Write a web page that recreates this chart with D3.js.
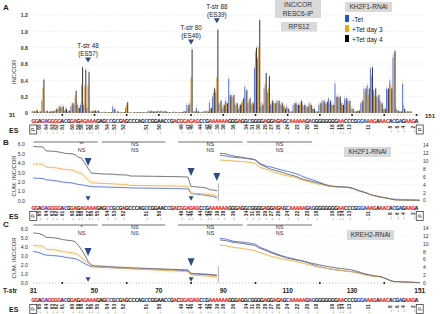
<!DOCTYPE html>
<html>
<head>
<meta charset="utf-8">
<script src="https://cdn.jsdelivr.net/npm/d3@7"></script>
<style>
body{margin:0;background:#fff}
svg text{font-family:"Liberation Sans",Arial,sans-serif}
</style>
</head>
<body>
<div id="chart"></div>
<script>
// T-str positions along RPS12
var positions = d3.range(31,152)
var seriesNames = ["-Tet","+Tet day 3","+Tet day 4"]
var seriesColors = ["#5577e8","#e79c22","#3a3a3a"]
var legendColors = ["#1f4fe6","#f5a400","#000000"]
var lineColors = ["#4d6fe8","#f2b04a","#6a6a6a"]

// panel A bars, INC/COR per position 31..151
var barMinusTet = [0.02,0.02,0.01,0.15,0.02,0.01,0.02,0.03,0.05,0.06,0.03,0.02,0.08,0.1,0.1,0.1,0.1,0.06,0.02,0.03,
  0.02,0.01,0.01,0.01,0.01,0.08,0.01,0.01,0.01,0.06,0.01,0.0,0.01,0.01,0.01,0.01,0.03,0.03,0.02,0.03,
  0.03,0.02,0.01,0.01,0.02,0.01,0.01,0.02,0.1,0.12,0.02,0.06,0.01,0.02,0.03,0.13,0.2,0.25,
  0.12,0.05,0.15,0.42,0.2,0.1,0.05,0.12,0.32,0.12,0.1,0.55,0.67,0.08,0.3,0.25,0.1,0.12,0.15,0.1,0.08,0.08,
  0.02,0.1,0.12,0.1,0.1,0.08,0.12,0.05,0.02,0.1,0.15,0.12,0.18,0.1,0.36,0.2,0.12,0.18,0.15,0.05,
  0.02,0.03,0.12,0.3,0.34,0.55,0.28,0.2,0.15,0.05,0.3,0.4,0.68,0.05,0.02,0.36,0.02,0.02,0.0,0.0,0.0]
var barTetDay3 = [0.03,0.04,0.02,0.3,0.02,0.02,0.03,0.04,0.07,0.07,0.05,0.03,0.1,0.2,0.07,0.34,0.33,0.33,0.02,0.03,
  0.03,0.01,0.02,0.01,0.01,0.04,0.02,0.01,0.01,0.1,0.01,0.01,0.01,0.01,0.01,0.01,0.02,0.02,0.02,0.02,
  0.02,0.03,0.01,0.01,0.01,0.01,0.01,0.03,0.06,0.43,0.02,0.02,0.01,0.02,0.02,0.05,0.25,0.43,
  0.1,0.08,0.12,0.2,0.18,0.1,0.08,0.14,0.25,0.15,0.12,0.75,0.81,0.12,0.35,0.3,0.12,0.12,0.12,0.1,0.08,0.06,
  0.02,0.1,0.1,0.12,0.08,0.06,0.1,0.05,0.02,0.1,0.12,0.1,0.12,0.1,0.2,0.18,0.1,0.15,0.12,0.05,
  0.02,0.03,0.12,0.25,0.22,0.45,0.2,0.18,0.1,0.05,0.28,0.35,0.72,0.03,0.02,0.1,0.02,0.02,0.0,0.0,0.0]
var barTetDay4 = [0.02,0.03,0.02,0.41,0.03,0.02,0.02,0.05,0.08,0.08,0.05,0.03,0.12,0.27,0.06,0.56,0.53,0.5,0.02,0.03,
  0.03,0.01,0.01,0.01,0.01,0.05,0.02,0.01,0.01,0.13,0.01,0.01,0.01,0.01,0.01,0.01,0.02,0.02,0.02,0.02,
  0.02,0.02,0.01,0.01,0.01,0.01,0.01,0.02,0.1,0.78,0.02,0.02,0.01,0.02,0.02,0.06,0.3,1.02,
  0.15,0.1,0.12,0.22,0.22,0.12,0.1,0.18,0.28,0.18,0.12,0.8,1.14,0.1,0.49,0.45,0.15,0.12,0.15,0.12,0.05,0.05,
  0.02,0.12,0.1,0.15,0.1,0.08,0.1,0.05,0.02,0.12,0.15,0.14,0.15,0.1,0.2,0.2,0.1,0.18,0.15,0.05,
  0.02,0.03,0.15,0.3,0.3,0.56,0.3,0.22,0.12,0.05,0.3,0.3,0.76,0.03,0.02,0.05,0.02,0.02,0.0,0.0,0.0]
var barErr = [0.04,0.03,0.03]
var yTicksA = [0,0.2,0.4,0.6,0.8,1.0,1.2]

// panel B cumulative INC/COR, positions 31..88 (left axis) and 89..151 (right axis)
var cumBLeftMinus = [2.4,2.38,2.37,2.35,2.2,2.18,2.15,2.1,2.05,1.98,1.94,1.9,1.88,1.8,1.72,1.68,1.62,1.55,1.5,1.48,
  1.47,1.46,1.45,1.44,1.43,1.42,1.41,1.4,1.39,1.38,1.35,1.35,1.34,1.34,1.33,1.33,1.32,1.32,1.31,1.31,
  1.3,1.3,1.29,1.29,1.28,1.28,1.27,1.26,1.25,0.75,0.72,0.68,0.64,0.6,0.55,0.48,0.45,0.28]
var cumBLeftDay3 = [3.9,3.88,3.87,3.85,3.55,3.52,3.5,3.48,3.42,3.35,3.3,3.28,3.25,3.15,2.95,2.9,2.55,2.2,1.9,1.88,
  1.85,1.83,1.82,1.81,1.8,1.78,1.75,1.74,1.73,1.72,1.62,1.62,1.61,1.61,1.6,1.6,1.59,1.59,1.58,1.58,
  1.57,1.57,1.56,1.56,1.55,1.55,1.54,1.53,1.52,0.8,0.78,0.76,0.74,0.72,0.68,0.64,0.6,0.45]
var cumBLeftDay4 = [5.75,5.72,5.7,5.68,5.27,5.25,5.24,5.2,5.15,5.08,5.0,4.98,4.96,4.86,4.6,4.5,3.95,3.42,2.92,2.9,
  2.87,2.84,2.83,2.82,2.81,2.8,2.75,2.74,2.73,2.72,2.62,2.61,2.61,2.6,2.6,2.59,2.59,2.58,2.58,2.57,
  2.57,2.56,2.56,2.55,2.55,2.54,2.53,2.52,2.5,1.5,1.48,1.45,1.42,1.38,1.3,1.15,1.12,1.05]
var cumBRightMinus = [11.4,11.3,11.2,11.0,10.9,10.8,10.75,10.7,10.6,10.5,10.4,10.2,9.6,9.1,8.8,8.5,8.4,8.15,7.9,7.7,
  7.5,7.3,7.1,6.9,6.6,6.3,5.9,5.65,5.4,5.1,4.8,4.5,4.2,3.9,3.7,3.55,3.45,3.4,3.35,3.3,
  3.25,3.05,2.75,2.45,2.2,1.95,1.65,1.35,1.15,0.95,0.8,0.65,0.5,0.35,0.3,0.25,0.22,0.2,0.15,0.12,0.1,0.08,0.0]
var cumBRightDay3 = [10.2,10.15,10.1,10.0,9.95,9.9,9.85,9.8,9.7,9.6,9.5,9.3,8.6,8.2,7.9,7.6,7.3,7.05,6.8,6.6,
  6.4,6.2,6.0,5.85,5.6,5.3,5.0,4.8,4.6,4.4,4.2,4.0,3.85,3.7,3.55,3.45,3.4,3.35,3.3,3.25,
  3.2,3.0,2.7,2.4,2.15,1.9,1.6,1.3,1.1,0.9,0.75,0.6,0.45,0.3,0.12,0.08,0.06,0.05,0.04,0.03,0.02,0.01,0.0]
var cumBRightDay4 = [11.9,11.8,11.7,11.45,11.25,11.1,11.0,10.9,10.7,10.55,10.45,10.2,9.3,8.9,8.5,8.1,7.8,7.6,7.35,7.15,
  6.9,6.6,6.4,6.2,5.9,5.55,5.3,5.1,4.9,4.7,4.5,4.3,4.05,3.85,3.65,3.55,3.5,3.45,3.4,3.35,
  3.3,3.1,2.8,2.5,2.25,2.0,1.7,1.35,1.2,1.0,0.85,0.7,0.55,0.35,0.15,0.08,0.06,0.05,0.04,0.03,0.02,0.01,0.0]

// panel C (KREH2-RNAi)
var cumCLeftMinus = [3.5,3.45,3.35,3.2,3.1,3.08,3.05,3.02,2.98,2.95,2.85,2.8,2.75,2.7,2.55,2.35,2.15,1.95,1.8,1.78,
  1.76,1.74,1.72,1.7,1.68,1.66,1.65,1.63,1.62,1.6,1.58,1.57,1.56,1.55,1.53,1.52,1.51,1.5,1.48,1.47,
  1.46,1.44,1.43,1.42,1.4,1.39,1.38,1.36,1.35,1.0,0.98,0.96,0.94,0.92,0.9,0.86,0.82,0.78]
var cumCLeftDay3 = [4.2,4.15,4.12,4.1,3.75,3.72,3.7,3.68,3.6,3.5,3.45,3.4,3.35,3.3,3.1,2.8,2.5,2.2,1.9,1.8,
  1.78,1.76,1.74,1.72,1.7,1.68,1.66,1.65,1.64,1.62,1.6,1.58,1.56,1.54,1.52,1.5,1.48,1.46,1.44,1.42,
  1.4,1.38,1.36,1.34,1.32,1.3,1.28,1.26,1.24,0.86,0.84,0.82,0.8,0.77,0.74,0.71,0.68,0.6]
var cumCLeftDay4 = [5.6,5.55,5.5,5.36,5.1,5.08,5.05,5.02,4.95,4.85,4.8,4.75,4.72,4.6,4.2,3.7,3.1,2.4,2.0,1.9,
  1.88,1.86,1.84,1.82,1.8,1.78,1.76,1.74,1.72,1.7,1.68,1.67,1.65,1.64,1.62,1.61,1.6,1.58,1.57,1.56,
  1.54,1.53,1.52,1.5,1.49,1.48,1.46,1.45,1.43,1.05,1.03,1.01,0.99,0.97,0.95,0.92,0.9,0.85]
var cumCRightMinus = [11.4,11.3,11.2,10.9,10.7,10.6,10.5,10.45,10.3,10.2,10.1,9.9,9.3,8.9,8.6,8.3,7.9,7.6,7.3,7.0,
  6.75,6.5,6.3,6.1,5.9,5.7,5.5,5.2,4.9,4.6,4.35,4.1,3.9,3.75,3.6,3.45,3.3,3.2,3.1,3.0,
  2.9,2.85,2.7,2.55,2.35,2.15,2.0,1.85,1.7,1.6,1.5,1.2,0.9,0.55,0.3,0.28,0.25,0.2,0.15,0.12,0.1,0.05,0.0]
var cumCRightDay3 = [9.7,9.6,9.5,9.3,9.1,9.0,8.9,8.8,8.65,8.5,8.4,8.2,7.8,7.6,7.3,7.0,6.75,6.55,6.35,6.15,
  6.0,5.85,5.7,5.55,5.35,5.15,4.95,4.75,4.55,4.35,4.15,4.0,3.85,3.7,3.55,3.4,3.3,3.2,3.1,3.0,
  2.9,2.8,2.6,2.4,2.2,2.0,1.85,1.7,1.6,1.55,1.5,1.15,0.8,0.45,0.25,0.22,0.2,0.17,0.13,0.1,0.08,0.04,0.0]
var cumCRightDay4 = [11.0,10.9,10.8,10.6,10.4,10.3,10.2,10.1,9.95,9.8,9.7,9.5,9.0,8.7,8.35,8.0,7.65,7.35,7.05,6.8,
  6.55,6.3,6.15,6.0,5.8,5.65,5.5,5.3,5.1,4.9,4.75,4.56,4.4,4.25,4.1,3.95,3.8,3.7,3.6,3.5,
  3.4,3.27,3.05,2.8,2.55,2.3,2.1,1.9,1.75,1.65,1.55,1.2,0.85,0.5,0.3,0.28,0.25,0.2,0.15,0.12,0.1,0.05,0.0]
var lineErr = [0.12,0.3,0.1]

// sequence and editing sites
var seqLetters = "GGAGAGGGGACGGAGAGAAAGAGCCGCGAGCCCAGCCGGAACCGACGGAGAGCCGAAA" +
  "AAAGGGAGGCGGGGAGGAGAGCAAAAAGAGGGGGGGGAACCCGGGAAAGAAACACGAGAAGA"
var seqColors = "rrkrbrrrrkbkrrkrrrrrkkkrbkbkrkkkkkkbkkkkkkbkrkrrrrrrkbkrrr" +
  "rrrkkkrkkbkkkkrkkrkrkbrrrrrkrbkkkkkkkrrkkkkbbbrrrkrrrkbkbkrrrkr"
var esPos = [33,35,37,38,40,43,45,46,48,49,51,54,56,59,66,70,77,79,80,83,85,86,88,
  90,93,97,99,101,103,105,107,110,113,116,119,124,126,127,129,135,142,144,146,149]
var esNum = [65,64,63,62,61,60,59,58,57,56,55,54,53,52,51,50,49,47,46,44,42,40,39,
  38,36,34,31,30,29,27,26,24,22,20,18,16,15,14,13,11,8,6,4,2]
var tstrTicks = [31,50,70,90,110,130,151]
var tstrMarks = [48,80,88]
var tstrLabels = [["T-str 48","(ES57)"],["T-str 80","(ES46)"],["T-str 88","(ES39)"]]
var bracketRanges = [[31,51],[52.3,72],[76,96],[97.4,117.6]]
var sigPos = [46,62.5,86,107.5]
var sigB = [["**","NS"],["NS","NS"],["NS","NS"],["NS","NS"]]
var sigC = [["*","NS"],["NS","NS"],["NS","NS"],["NS","NS"]]

var W = 440, H = 314
var svg = d3.select("#chart").append("svg").attr("width",W).attr("height",H)
var xPos = d3.scaleLinear().domain([31,151]).range([33.3,419.7])
var bandX = d3.scaleBand().domain(positions).range([xPos(31)-1.61,xPos(151)+1.61]).paddingInner(0.04)
var subX = d3.scaleBand().domain(seriesNames).range([0,bandX.bandwidth()])
var seqFill = {r:"#e8332a",b:"#2b5fd9",k:"#333"}
var navy = "#2b4c86"

function txt(x,y,s,size,opts){
	opts = opts || {}
	return svg.append("text").attr("x",x).attr("y",y).text(s)
		.attr("font-size",size)
		.attr("font-weight",opts.bold?"bold":"normal")
		.attr("text-anchor",opts.anchor||"start")
		.attr("fill",opts.fill||"#222")
}

function grayBox(x,y,w,h,lines,size){
	svg.append("rect").attr("x",x).attr("y",y).attr("width",w).attr("height",h).attr("fill","#d9d9d9")
	lines.forEach(function(l,i){
		txt(x+w/2,y+size+0.8+i*(size+1.8),l,size,{anchor:"middle",fill:"#333"})
	})
}

function triangle(x,y,w,h){
	svg.append("path")
		.attr("d","M"+(x-w/2)+","+(y-h/2)+"L"+(x+w/2)+","+(y-h/2)+"L"+x+","+(y+h/2)+"Z")
		.attr("fill",navy)
}

function seqRow(ySeq,yEs){
	var g = svg.append("g")
	g.selectAll("text").data(positions).enter().append("text")
		.attr("x",function(p){return xPos(p)})
		.attr("y",ySeq)
		.attr("text-anchor","middle")
		.attr("font-size",5.6)
		.attr("font-weight","bold")
		.style("font-family","'DejaVu Sans Condensed','Liberation Sans',sans-serif")
		.attr("fill",function(p,i){return seqFill[seqColors[i]||"k"]})
		.text(function(p,i){return seqLetters[i]||""})
	txt(9,yEs+3,"ES",7,{bold:true,fill:"#222"})
	;[31,151].forEach(function(p){
		svg.append("rect").attr("x",xPos(p)-3.5).attr("y",yEs-4.5).attr("width",7).attr("height",9)
			.attr("fill","none").attr("stroke","#222").attr("stroke-width",0.7)
		svg.append("text").attr("transform","translate("+(xPos(p)+1.8)+","+yEs+") rotate(-90)")
			.attr("text-anchor","middle").attr("font-size",5.5).attr("fill","#222").text("P")
	})
	var e = svg.append("g")
	e.selectAll("text").data(esPos).enter().append("text")
		.attr("transform",function(p){return "translate("+(xPos(p)+1.7)+","+yEs+") rotate(-90)"})
		.attr("text-anchor","middle")
		.attr("font-size",4.8)
		.attr("font-weight","bold")
		.attr("fill","#333")
		.text(function(p,i){return "\u2190"+esNum[i]})
}

function dotRow(y,every){
	svg.append("g").selectAll("circle").data(positions).enter().append("circle")
		.attr("cx",function(p){return xPos(p)})
		.attr("cy",y)
		.attr("r",function(p){return p%every==0 && p>31 ? 1 : 0.45})
		.attr("fill",function(p){return p%every==0 && p>31 ? "#111" : "#777"})
}

// ---------- panel A ----------
var yA = d3.scaleLinear().domain([0,1.2]).range([113,15])
txt(3,10,"A",8,{bold:true})
svg.append("g").selectAll("line").data(yTicksA.slice(1)).enter().append("line")
	.attr("x1",33).attr("x2",425)
	.attr("y1",function(d){return yA(d)}).attr("y2",function(d){return yA(d)})
	.attr("stroke","#ddd").attr("stroke-width",0.5).attr("stroke-dasharray","2,1.5")

var axA = svg.append("g").attr("transform","translate(30,0)")
	.call(d3.axisLeft(yA).tickValues(yTicksA).tickSize(0).tickPadding(2)
	.tickFormat(function(d){return d===0?"0":d3.format(".1f")(d)}))
axA.select(".domain").remove()
axA.selectAll("text").attr("font-size",5.2).attr("font-weight","bold").attr("fill","#333")
svg.append("text").attr("transform","translate(16,72) rotate(-90)")
	.attr("text-anchor","middle").attr("font-size",5.8).attr("fill","#333").text("INC/COR")

var barSeries = [barMinusTet,barTetDay3,barTetDay4]
barSeries.forEach(function(vals,si){
	var g = svg.append("g")
	g.selectAll("line").data(positions).enter().append("line")
		.attr("x1",function(p){return bandX(p)+subX(seriesNames[si])+subX.bandwidth()/2})
		.attr("x2",function(p){return bandX(p)+subX(seriesNames[si])+subX.bandwidth()/2})
		.attr("y1",function(p,i){return yA(vals[i])})
		.attr("y2",function(p,i){return yA(vals[i]+(vals[i]>0.04?barErr[si]:0))})
		.attr("stroke","#bbb").attr("stroke-width",0.4)
	g.selectAll("rect").data(positions).enter().append("rect")
		.attr("x",function(p){return bandX(p)+subX(seriesNames[si])})
		.attr("width",subX.bandwidth())
		.attr("y",function(p,i){return yA(vals[i])})
		.attr("height",function(p,i){return yA(0)-yA(vals[i])})
		.attr("fill",seriesColors[si])
})

var aTriVals = [0.65,0.87,1.13]
tstrMarks.forEach(function(p,i){
	var x = xPos(p), y = yA(aTriVals[i])
	triangle(x,y,6,5)
	txt(x,y-11.5,tstrLabels[i][0],6.3,{anchor:"middle"})
	txt(x,y-3.8,tstrLabels[i][1],6.3,{anchor:"middle"})
})

grayBox(275,0,46,18,["INC/COR","RESC6-IP"],6.6)
grayBox(281,22,36,9.5,["RPS12"],6.6)
grayBox(345,2,47,10,["KH2F1-RNAi"],6.6)
seriesNames.forEach(function(n,i){
	svg.append("rect").attr("x",345).attr("y",15+i*10).attr("width",4).attr("height",7).attr("fill",legendColors[i])
	txt(352,21.5+i*10,n,6.6,{fill:"#222"})
})

dotRow(115,10)
txt(9,117,"31",5.5,{bold:true})
txt(425,118,"151",6,{bold:true})
seqRow(122.5,129.5)

// ---------- panels B and C ----------
function cumPanel(cfg){
	txt(3,cfg.letterY,cfg.letter,8,{bold:true})
	bracketRanges.forEach(function(r,i){
		svg.append("line").attr("x1",xPos(r[0])).attr("x2",xPos(r[1]))
			.attr("y1",cfg.bracketY).attr("y2",cfg.bracketY).attr("stroke","#333").attr("stroke-width",0.7)
		txt(xPos(sigPos[i]),cfg.bracketY+4.4,cfg.sig[i][0],5.5,{anchor:"middle",fill:"#333"})
		txt(xPos(sigPos[i]),cfg.bracketY+10.2,cfg.sig[i][1],5.5,{anchor:"middle",fill:"#333"})
	})
	// right-axis grid
	svg.append("g").selectAll("line").data(d3.range(2,15,2)).enter().append("line")
		.attr("x1",xPos(89)).attr("x2",xPos(151))
		.attr("y1",function(d){return cfg.yR(d)}).attr("y2",function(d){return cfg.yR(d)})
		.attr("stroke","#e6e6e6").attr("stroke-width",0.5).attr("stroke-dasharray","1.5,1.5")

	var axL = svg.append("g").attr("transform","translate("+cfg.axLx+",0)")
		.call(d3.axisLeft(cfg.yL).tickValues([0,1,2,3,4,5,6]).tickSize(0).tickPadding(2))
	axL.select(".domain").remove()
	axL.selectAll("text").attr("font-size",5.2).attr("fill","#333")
	var axR = svg.append("g").attr("transform","translate(421,0)")
		.call(d3.axisRight(cfg.yR).tickValues(d3.range(0,15,2)).tickSize(0).tickPadding(2))
	axR.select(".domain").remove()
	axR.selectAll("text").attr("font-size",5).attr("fill","#333")
	svg.append("text").attr("transform","translate(16,"+cfg.labelY+") rotate(-90)")
		.attr("text-anchor","middle").attr("font-size",5.8).attr("fill","#333").text("CUM. INC/COR")

	var leftPos = positions.filter(function(p){return p<=88})
	var rightPos = positions.filter(function(p){return p>=89})
	function drawSet(posList,vals,y,si){
		var pts = posList.map(function(p,i){return {p:p,v:vals[i]}})
		svg.append("g").selectAll("line").data(pts).enter().append("line")
			.attr("x1",function(d){return xPos(d.p)}).attr("x2",function(d){return xPos(d.p)})
			.attr("y1",function(d){return y(Math.max(0,d.v-cfg.err[si]))})
			.attr("y2",function(d){return y(d.v+cfg.err[si])})
			.attr("stroke",si==1?"#f3d9a8":"#d4d4d4").attr("stroke-width",0.45)
		var line = d3.line().x(function(d){return xPos(d.p)}).y(function(d){return y(d.v)})
		svg.append("path").datum(pts).attr("d",line).attr("fill","none")
			.attr("stroke",lineColors[si]).attr("stroke-width",0.9)
	}
	cfg.left.forEach(function(vals,si){drawSet(leftPos,vals,cfg.yL,si)})
	cfg.right.forEach(function(vals,si){drawSet(rightPos,vals,cfg.yR,si)})
	svg.append("line").attr("x1",xPos(88)+1.5).attr("x2",xPos(88)+1.5)
		.attr("y1",cfg.yL(1.85)).attr("y2",cfg.yL(0)).attr("stroke","#999").attr("stroke-width",0.8)

	cfg.triVals.forEach(function(v,i){
		triangle(xPos(tstrMarks[i]),cfg.yL(v),7,8)
	})
	;[48,80].forEach(function(p){triangle(xPos(p),cfg.lowTriY,5,4.5)})
	grayBox(cfg.box[0],cfg.box[1],47,10,[cfg.boxText],6.6)
}

cumPanel({
	letter:"B",letterY:145,bracketY:142,sig:sigB,
	yL:d3.scaleLinear().domain([0,6]).range([200.7,144]),
	yR:d3.scaleLinear().domain([0,14]).range([200.3,145]),
	axLx:27,labelY:176,
	left:[cumBLeftMinus,cumBLeftDay3,cumBLeftDay4],
	right:[cumBRightMinus,cumBRightDay3,cumBRightDay4],
	err:lineErr,triVals:[4.1,3.04,2.5],lowTriY:198.5,
	box:[344,147],boxText:"KH2F1-RNAi"
})
seqRow(209.5,216)

cumPanel({
	letter:"C",letterY:227,bracketY:225,sig:sigC,
	yL:d3.scaleLinear().domain([0,6]).range([282.7,229.3]),
	yR:d3.scaleLinear().domain([0,14]).range([282.7,228.3]),
	axLx:30,labelY:258,
	left:[cumCLeftMinus,cumCLeftDay3,cumCLeftDay4],
	right:[cumCRightMinus,cumCRightDay3,cumCRightDay4],
	err:lineErr,triVals:[3.45,2.3],lowTriY:279.5,
	box:[347,230],boxText:"KREH2-RNAi"
})
dotRow(283,20)
txt(3,292.5,"T-str",6.5,{bold:true})
tstrTicks.forEach(function(t){
	txt(xPos(t),292.5,String(t),6.5,{bold:true,anchor:"middle"})
})
seqRow(301.5,309)
</script>
</body>
</html>
